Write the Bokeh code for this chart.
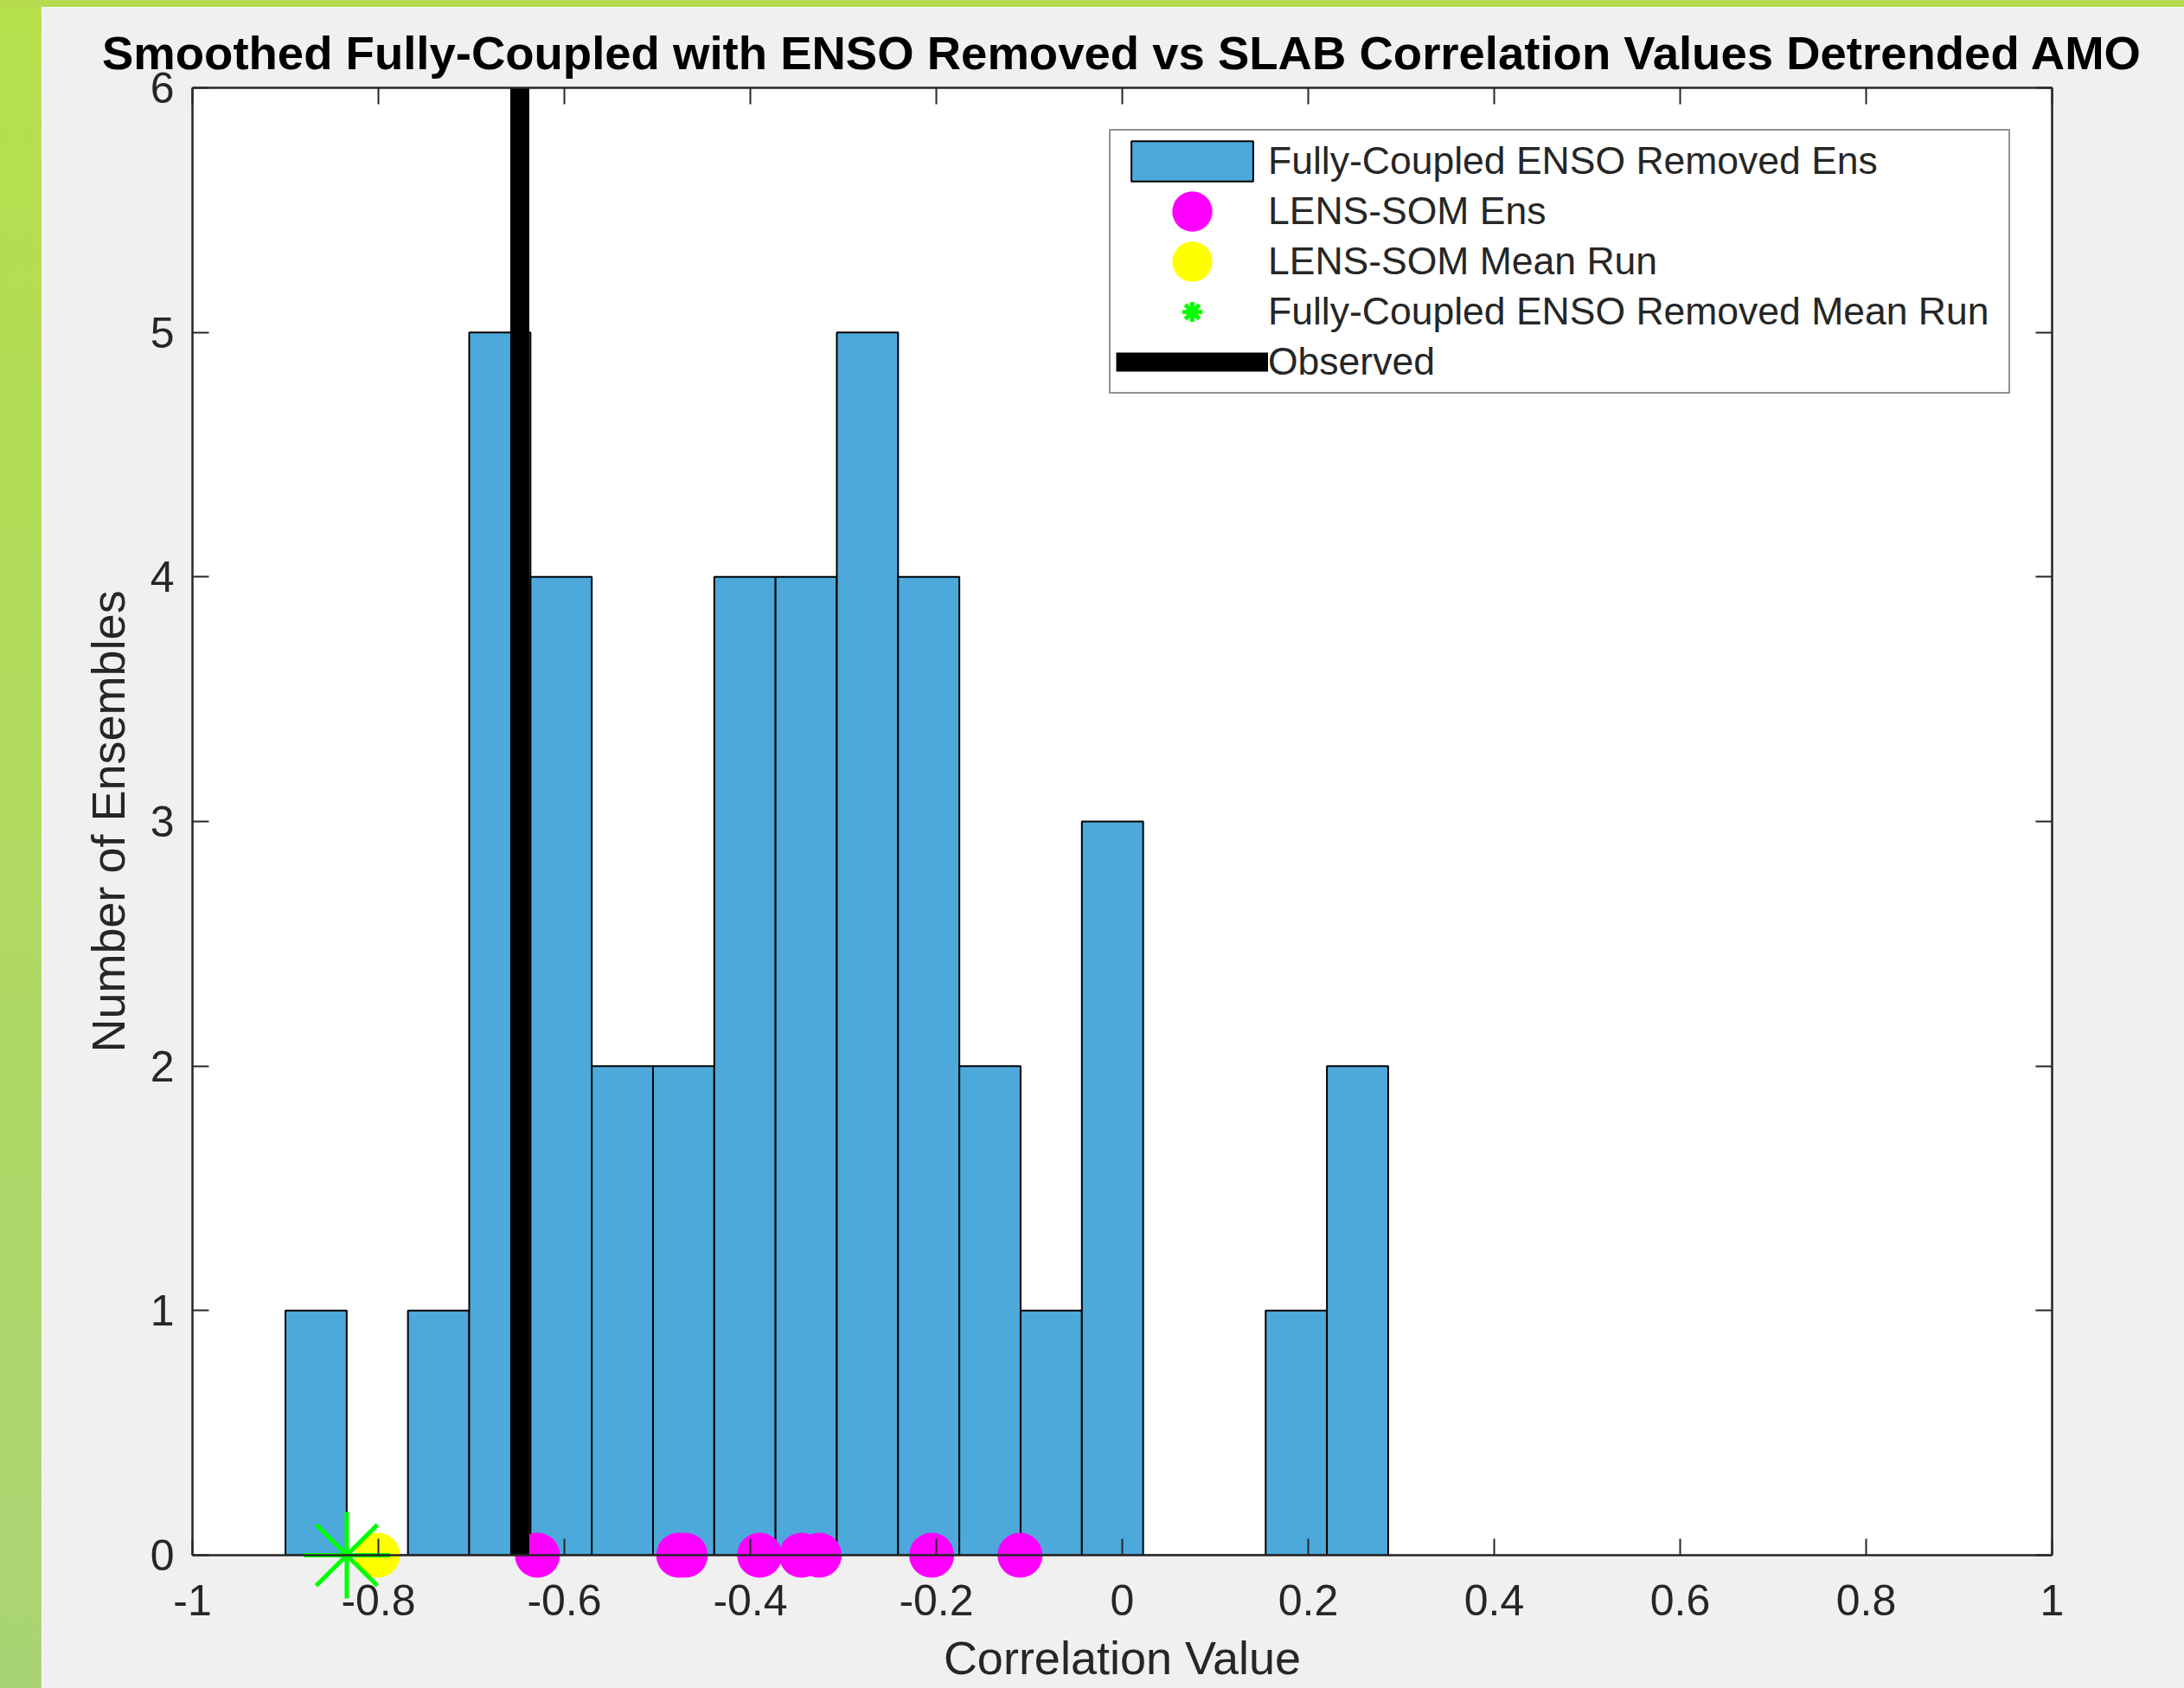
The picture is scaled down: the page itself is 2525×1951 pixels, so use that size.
import numpy as np
from bokeh.plotting import figure
from bokeh.models import (FixedTicker, LinearAxis, Legend, LegendItem,
                          CustomJSTickFormatter, Range1d, Div)
from bokeh.layouts import column, row
from bokeh.embed import file_html
from bokeh.resources import INLINE

# ---------------- data ----------------
hist_min = -0.900          # smallest ensemble correlation (left edge of first bin)
hist_max = 0.286           # largest ensemble correlation (right edge of last bin)
hist_counts = [1, 0, 1, 5, 4, 2, 2, 4, 4, 5, 4, 2, 1, 3, 0, 0, 1, 2]
lens_som_ens = [-0.629, -0.477, -0.470, -0.390, -0.345, -0.326, -0.205, -0.110]
lens_som_mean = [-0.801]
fc_enso_removed_mean = [-0.834]
observed = [-0.648]

x_ticks = [-1, -0.8, -0.6, -0.4, -0.2, 0, 0.2, 0.4, 0.6, 0.8, 1]
y_ticks = [0, 1, 2, 3, 4, 5, 6]
x_lim = (-1, 1)
y_lim = (0, 6)

title_text = "Smoothed Fully-Coupled with ENSO Removed vs SLAB Correlation Values Detrended AMO"
x_label = "Correlation Value"
y_label = "Number of Ensembles"
legend_labels = ["Fully-Coupled ENSO Removed Ens", "LENS-SOM Ens", "LENS-SOM Mean Run",
                 "Fully-Coupled ENSO Removed Mean Run", "Observed"]

edges = np.linspace(hist_min, hist_max, len(hist_counts) + 1)

FONT = "Liberation Sans"
AX = "#262626"

p = figure(width=2477, height=1943, output_backend="svg", toolbar_location=None, tools="",
           x_range=Range1d(*x_lim), y_range=Range1d(*y_lim),
           min_border_left=174, min_border_right=153, min_border_top=93, min_border_bottom=154,
           background_fill_color="white", border_fill_color="#f0f0f0", margin=0)
p.outline_line_color = None
p.grid.visible = False

p.title.text = title_text
p.title.text_font = FONT
p.title.text_font_style = "bold"
p.title.text_font_size = "54.5px"
p.title.text_color = "black"
p.title.align = "center"
p.title.standoff = 19

xa = p.below[0]
ya = p.left[0]
top_ax = LinearAxis()
right_ax = LinearAxis()
p.add_layout(top_ax, "above")
p.add_layout(right_ax, "right")

for ax, ticks in [(xa, x_ticks), (top_ax, x_ticks), (ya, y_ticks), (right_ax, y_ticks)]:
    ax.ticker = FixedTicker(ticks=ticks)
    ax.axis_line_color = AX
    ax.axis_line_width = 2.5
    ax.major_tick_line_color = AX
    ax.major_tick_line_width = 2
    ax.major_tick_in = 19
    ax.major_tick_out = 0
    ax.minor_tick_line_color = None
    ax.major_label_text_font = FONT
    ax.major_label_text_font_size = "50px"
    ax.major_label_text_color = AX

xa.formatter = CustomJSTickFormatter(code="return String(Math.round(tick*10)/10)")

# box-only axes on top and right: ticks but no labels
for ax in (top_ax, right_ax):
    ax.major_label_text_font_size = "1px"
    ax.major_label_text_color = None
    ax.major_label_standoff = 0

xa.axis_label = x_label
xa.axis_label_text_font = FONT
xa.axis_label_text_font_size = "54px"
xa.axis_label_text_font_style = "normal"
xa.axis_label_text_color = AX
xa.major_label_standoff = 34
xa.axis_label_standoff = 16

ya.axis_label = y_label
ya.axis_label_text_font = FONT
ya.axis_label_text_font_size = "54px"
ya.axis_label_text_font_style = "normal"
ya.axis_label_text_color = AX
ya.major_label_standoff = 21
ya.axis_label_standoff = 16

# histogram bars
bars = p.quad(left=edges[:-1], right=edges[1:], bottom=[y_lim[0]] * len(hist_counts), top=hist_counts,
              fill_color="#4DA9DB", line_color="black", line_width=2)

# markers at y = 0 (drawn at guide level so they are not clipped by the frame)
mag = p.ellipse(x=lens_som_ens, y=[0] * len(lens_som_ens), width=52, height=52,
                width_units="screen", height_units="screen",
                fill_color="#FF00FF", line_color=None)
yel = p.ellipse(x=lens_som_mean, y=[0] * len(lens_som_mean), width=52, height=52,
                width_units="screen", height_units="screen",
                fill_color="#FFFF00", line_color=None)
star = p.scatter(x=fc_enso_removed_mean, y=[0] * len(fc_enso_removed_mean), marker="asterisk",
                 size=100, line_color="#00FF00", line_width=5)
obs = p.segment(x0=observed, y0=[y_lim[0]], x1=observed, y1=[y_lim[1]],
                line_color="black", line_width=22)
for r in (mag, yel, star, obs):
    r.level = "guide"

legend = Legend(items=[LegendItem(label=legend_labels[0], renderers=[bars]),
                       LegendItem(label=legend_labels[1], renderers=[mag]),
                       LegendItem(label=legend_labels[2], renderers=[yel]),
                       LegendItem(label=legend_labels[3], renderers=[star]),
                       LegendItem(label=legend_labels[4], renderers=[obs])],
                location="top_right", margin=48, padding=6, spacing=0,
                glyph_width=176, glyph_height=58, label_height=58, label_width=850,
                label_standoff=0,
                label_text_font=FONT, label_text_font_size="44.5px", label_text_color=AX,
                border_line_color=AX, border_line_width=2,
                background_fill_color="white", background_fill_alpha=1.0)
p.add_layout(legend)

top_strip = Div(width=2525, height=8, margin=0, styles={"background": "#b4dc4e"})
left_strip = Div(width=48, height=1943, margin=0,
                 styles={"background": "linear-gradient(to bottom, #b6df4c, #a9d474)"})
layout = column(top_strip, row(left_strip, p, spacing=0, margin=0), spacing=0, margin=0)

html = file_html(layout, INLINE)
html = html.replace("</head>", "<style>html, body { margin: 0; padding: 0; overflow: hidden; }</style></head>", 1)
open("out.html", "w").write(html)
